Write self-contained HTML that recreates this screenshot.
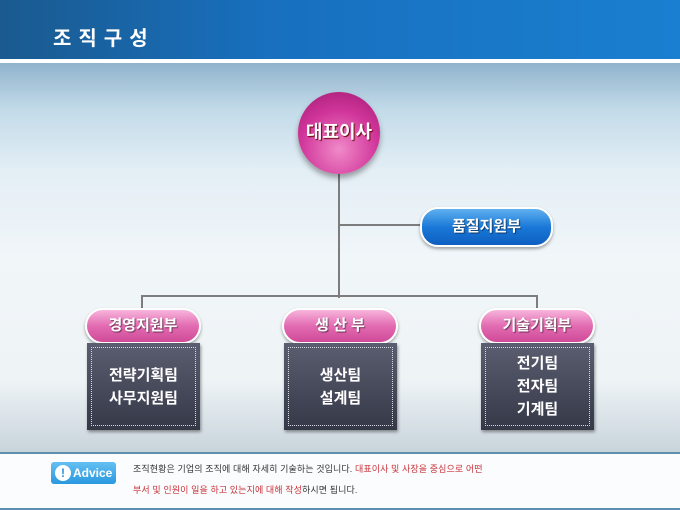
<!DOCTYPE html>
<html><head><meta charset="utf-8"><style>
*{margin:0;padding:0;box-sizing:border-box}
body{width:680px;height:510px;overflow:hidden;position:relative;font-family:"Liberation Sans","Noto Sans CJK KR",sans-serif;background:linear-gradient(#8fb3cc 62px,#c3dbe9 110px,#e3eef5 170px,#f1f6f9 260px,#eef3f6 380px,#c9d5dc 450px,#b8c7d0 510px)}
.hdr{position:absolute;left:0;top:0;width:680px;height:59px;background:linear-gradient(90deg,#1a5a8f,#1870bf 40%,#1a7fd0)}
.hdr span{position:absolute;left:53px;top:22px;color:#fff;font-weight:bold;font-size:20px;letter-spacing:7px}
.wl{position:absolute;left:0;top:59px;width:680px;height:4px;background:#fff}
.ln{position:absolute;background:#7d7d7d}
.circ{position:absolute;left:298px;top:92px;width:82px;height:82px;border-radius:50%;background:radial-gradient(circle at 50% 70%,#f08ac8,#d0359a 55%,#a01a70);box-shadow:0 4px 6px rgba(0,0,0,.35);color:#fff;font-weight:bold;font-size:18px;text-align:center;line-height:80px;text-shadow:1px 1px 1px #600}
.pill{position:absolute;border-radius:18px;color:#fff;font-weight:bold;font-size:15px;text-align:center;border:2px solid #fff;box-shadow:0 2px 3px rgba(0,0,0,.35);text-shadow:1px 1px 1px rgba(0,0,0,.5)}
.blue{background:linear-gradient(#5fb0f0,#1a78d8 50%,#0d5fc0)}
.pink{background:linear-gradient(#f7b5dc,#e26bb1 50%,#d04a98)}
.box{position:absolute;background:linear-gradient(#5a5e70,#353847);color:#fff;font-weight:bold;font-size:15px;text-align:center;display:flex;align-items:center;justify-content:center;line-height:23px;box-shadow:1px 2px 3px rgba(0,0,0,.4)}
.box:before{content:"";position:absolute;left:4px;top:4px;right:4px;bottom:4px;border:1px dotted #d8d8e0}
.adv{position:absolute;left:0;top:452px;width:680px;height:58px;background:#fbfcfd;border:2px solid #5d8fae;border-left:none;border-right:none}
.ab{position:absolute;left:51px;top:462px;width:65px;height:22px;border-radius:3px;background:linear-gradient(#64c0f2,#2a98e0);color:#fff;font-size:12px;font-weight:bold;line-height:22px;padding-left:22px}
.ab i{position:absolute;left:4px;top:3px;width:16px;height:16px;border-radius:50%;background:#fff;color:#2a8ed8;font-style:normal;font-size:12px;line-height:16px;text-align:center;padding:0}
.at{position:absolute;left:133px;top:459px;font-size:9px;line-height:21px;color:#333;letter-spacing:0.1px}
.r{color:#c8323a}
</style></head><body>
<div class="hdr"><span>조직구성</span></div>
<div class="wl"></div>
<div class="ln" style="left:338px;top:172px;width:2px;height:126px"></div>
<div class="ln" style="left:338px;top:224px;width:84px;height:2px"></div>
<div class="ln" style="left:141px;top:295px;width:397px;height:2px"></div>
<div class="ln" style="left:141px;top:295px;width:2px;height:16px"></div>
<div class="ln" style="left:536px;top:295px;width:2px;height:16px"></div>
<div class="circ">대표이사</div>
<div class="pill blue" style="left:420px;top:207px;width:133px;height:40px;line-height:36px">품질지원부</div>
<div class="pill pink" style="left:85px;top:308px;width:116px;height:36px;line-height:32px">경영지원부</div>
<div class="pill pink" style="left:282px;top:308px;width:116px;height:36px;line-height:32px">생 산 부</div>
<div class="pill pink" style="left:479px;top:308px;width:116px;height:36px;line-height:32px">기술기획부</div>
<div class="box" style="left:87px;top:343px;width:113px;height:87px">전략기획팀<br>사무지원팀</div>
<div class="box" style="left:284px;top:343px;width:113px;height:87px">생산팀<br>설계팀</div>
<div class="box" style="left:481px;top:343px;width:113px;height:87px">전기팀<br>전자팀<br>기계팀</div>
<div class="adv"></div>
<div class="ab"><i>!</i>Advice</div>
<div class="at">조직현황은 기업의 조직에 대해 자세히 기술하는 것입니다. <span class="r">대표이사 및 사장을 중심으로 어떤</span><br><span class="r">부서 및 인원이 일을 하고 있는지에 대해 작성</span>하시면 됩니다.</div>
</body></html>
